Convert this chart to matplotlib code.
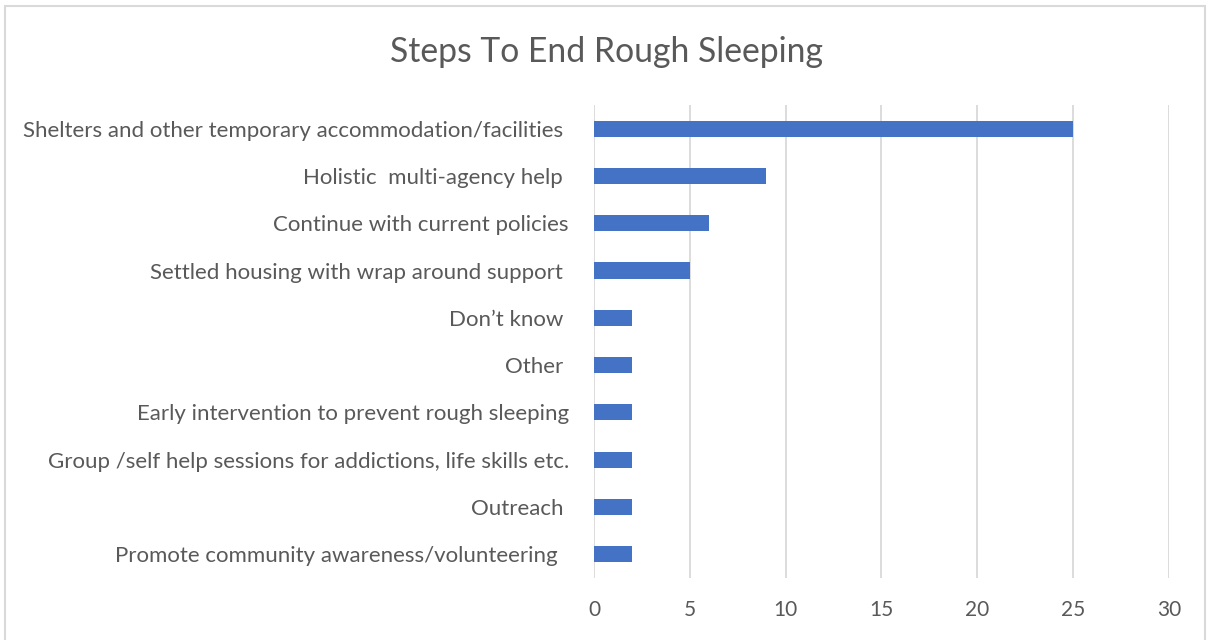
import matplotlib
matplotlib.use('Agg')
import matplotlib.pyplot as plt
from matplotlib.patches import Rectangle

# Données
categories = [
    "Shelters and other temporary accommodation/facilities ",
    "Holistic  multi-agency help ",
    "Continue with current policies",
    "Settled housing with wrap around support ",
    "Don\u2019t know ",
    "Other ",
    "Early intervention to prevent rough sleeping",
    "Group /self help sessions for addictions, life skills etc.",
    "Outreach ",
    "Promote community awareness/volunteering  ",
]
values = [25, 9, 6, 5, 2, 2, 2, 2, 2, 2]
xticks = [0, 5, 10, 15, 20, 25, 30]

text_color = '#595959'
bar_color = '#4472C4'
grid_color = '#D9D9D9'

plt.rcParams['font.family'] = ['Lato', 'DejaVu Sans']

fig = plt.figure(figsize=(12.08, 6.4), dpi=100, facecolor='white')
ax = fig.add_axes([0.4917, 0.0969, 0.4760, 0.7391])

ypos = list(range(len(categories)))
ax.barh(ypos, values, height=0.34, color=bar_color, zorder=3)
ax.set_ylim(len(categories) - 0.5, -0.5)
ax.set_xlim(0, 30)
ax.set_xticks(xticks)
ax.set_yticks(ypos)
ax.set_yticklabels(categories, fontsize=16)

ax.grid(True, axis='x', color=grid_color, linewidth=1.3, zorder=0)
for s in ax.spines.values():
    s.set_visible(False)
ax.tick_params(axis='both', length=0, colors=text_color)
ax.tick_params(axis='x', pad=16, labelsize=15)
ax.tick_params(axis='y', pad=18)

fig.text(0.502, 0.919, 'Steps To End Rough Sleeping', ha='center', va='center',
         fontsize=24.3, color=text_color)

# cadre du graphique
fig.patches.append(Rectangle((5 / 1208, -0.01), 1200 / 1208, 1 - 6 / 640 + 0.01,
                             transform=fig.transFigure, fill=False,
                             edgecolor='#D9D9D9', linewidth=1.5))

fig.savefig('out.png', dpi=100, facecolor='white')
